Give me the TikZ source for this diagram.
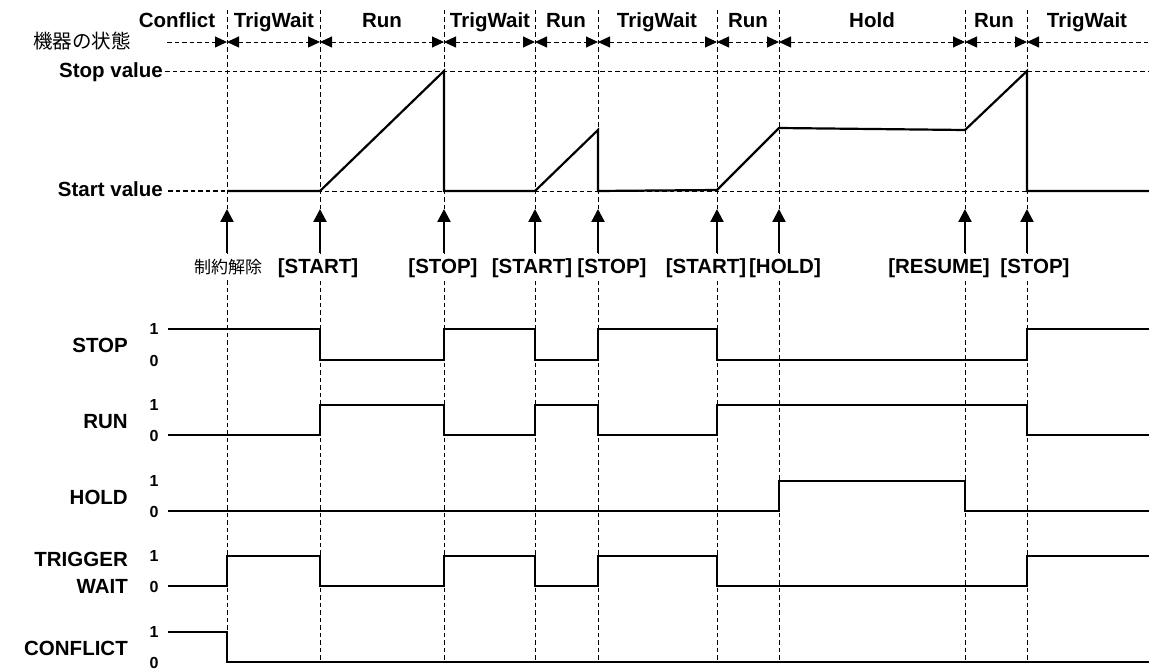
\documentclass[tikz,border=0pt]{standalone}
\usepackage{fontspec}
\setmainfont{Liberation Sans}
\newfontfamily\jpfont{Noto Sans CJK JP}
\usetikzlibrary{arrows.meta}
\begin{document}
\begin{tikzpicture}[x=1pt,y=-1pt,
  grid/.style={line width=0.9pt, dash pattern=on 4.5pt off 3pt},
  stseg/.style={grid, >={Triangle[width=11pt,length=12pt]}},
  sig/.style={line width=2.3pt, line join=miter},
  wave/.style={line width=2.2pt, line join=miter},
  lbl/.style={font=\bfseries\fontsize{20.5}{24}\selectfont, inner sep=0pt, anchor=base},
  evlbl/.style={lbl, fill=white, inner ysep=4pt},
  sglbl/.style={lbl, anchor=base east},
  lvl/.style={font=\bfseries\fontsize{16}{17}\selectfont, inner sep=0pt},
  evarrow/.style={line width=2.3pt, -{Triangle[width=13pt,length=13pt]}}
]
\useasboundingbox (0,0) rectangle (1149,671);

% boundaries (vertical dashed guides)
\foreach \n/\x in {1/227,2/320,3/444,4/535,5/598,6/717,7/779,8/965,9/1027} {
  \coordinate (top\n) at (\x,10);
  \coordinate (bot\n) at (\x,661);
  \coordinate (s\n) at (\x,42);
  \draw[grid] (top\n) -- (bot\n);
}

% state row
\node[anchor=base east, font=\jpfont\fontsize{19.5}{22}\selectfont, inner sep=0pt] (stlbl) at (131,49) {機器の状態};
\coordinate (sL) at (167,42);
\coordinate (sR) at (1149,42);
\draw[stseg, ->] (sL) -- (s1);
\foreach \a/\b in {1/2,2/3,3/4,4/5,5/6,6/7,7/8,8/9} \draw[stseg, <->] (s\a) -- (s\b);
\draw[stseg, <-] (s9) -- (sR);

\node[lbl] (st1) at (177,28) {Conflict};
\node[lbl] (st2) at (274,28) {TrigWait};
\node[lbl] (st3) at (382,28) {Run};
\node[lbl] (st4) at (490,28) {TrigWait};
\node[lbl] (st5) at (566,28) {Run};
\node[lbl] (st6) at (657,28) {TrigWait};
\node[lbl] (st7) at (748,28) {Run};
\node[lbl] (st8) at (872,28) {Hold};
\node[lbl] (st9) at (994,28) {Run};
\node[lbl] (st10) at (1087,28) {TrigWait};

% value levels
\node[sglbl] (stopv) at (163,78) {Stop value};
\node[sglbl] (startv) at (163,197) {Start value};
\coordinate (svL) at (165,71);  \coordinate (svR) at (1149,71);
\coordinate (avL) at (168,191); \coordinate (avR) at (1149,191);
\draw[grid] (svL) -- (svR);
\draw[grid, line width=1.6pt] (avL) -- (s1 |- avL);
\draw[grid] (s1 |- avL) -- (avR);

% analog waveform
\draw[wave] (227,191) -- (320,191) -- (444,71) -- (444,191) -- (535,191)
  -- (598,130) -- (598,191) -- (717,190) -- (779,128) -- (965,130)
  -- (1027,71) -- (1027,191) -- (1149,191);

% event labels
\node[evlbl] (e1) at (228,273) {\jpfont\mdseries\fontsize{17}{20}\selectfont 制約解除};
\node[evlbl] (e2) at (318,273) {[START]};
\node[evlbl] (e3) at (443,273) {[STOP]};
\node[evlbl] (e4) at (532,273) {[START]};
\node[evlbl] (e5) at (612,273) {[STOP]};
\node[evlbl] (e6) at (706,273) {[START]};
\node[evlbl] (e7) at (785,273) {[HOLD]};
\node[evlbl] (e8) at (939,273) {[RESUME]};
\node[evlbl] (e9) at (1035,273) {[STOP]};

% event arrows
\foreach \n/\x in {1/227,2/320,3/444,4/535,5/598,6/717,7/779,8/965,9/1027} {
  \coordinate (ea\n) at (\x,253);
  \coordinate (eb\n) at (\x,209);
  \draw[evarrow] (ea\n) -- (eb\n);
}

% signal labels
\node[sglbl] (lstop) at (128,352) {STOP};
\node[sglbl] (lrun) at (128,428) {RUN};
\node[sglbl] (lhold) at (128,504) {HOLD};
\node[sglbl] (ltrig) at (128,566) {TRIGGER};
\node[sglbl] (lwait) at (128,593) {WAIT};
\node[sglbl] (lconf) at (128,655) {CONFLICT};

% level digits
\foreach \hi/\lo in {329/360,405/435,481/511,556/586,632/662} {
  \node[lvl] at (154,\hi) {1};
  \node[lvl] at (154,\lo+1) {0};
}

% digital signals
\draw[sig] (168,329) -| (320,360) -| (444,329) -| (535,360) -| (598,329) -| (717,360) -| (1027,329) -- (1149,329);
\draw[sig] (168,435) -| (320,405) -| (444,435) -| (535,405) -| (598,435) -| (717,405) -| (1027,435) -- (1149,435);
\draw[sig] (168,511) -| (779,481) -| (965,511) -- (1149,511);
\draw[sig] (168,586) -| (227,556) -| (320,586) -| (444,556) -| (535,586) -| (598,556) -| (717,586) -| (1027,556) -- (1149,556);
\draw[sig] (168,632) -| (227,662) -- (1149,662);
\end{tikzpicture}
\end{document}
